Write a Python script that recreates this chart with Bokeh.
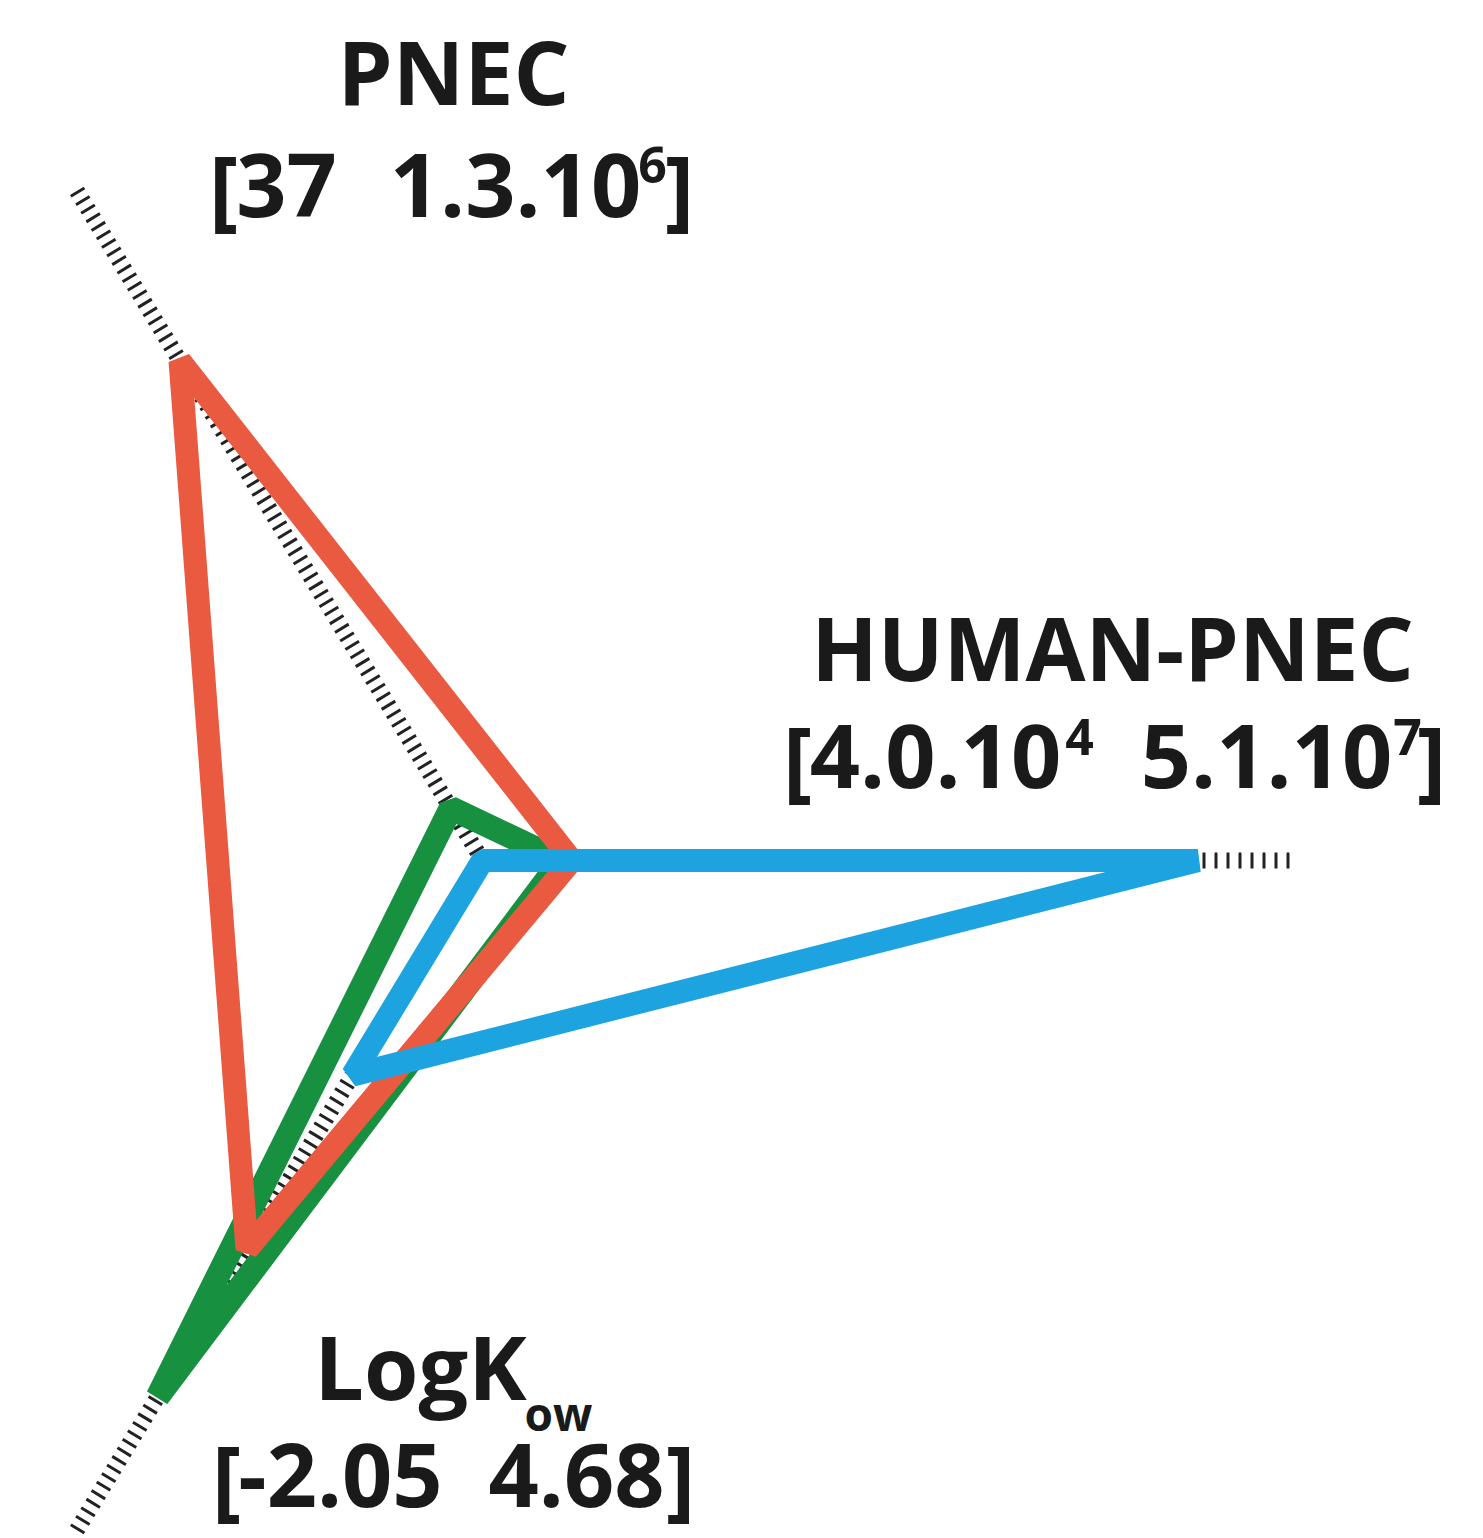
import numpy as np
from bokeh.plotting import figure
from bokeh.models import Range1d, ColumnDataSource
from bokeh.core.properties import value
from bokeh.embed import file_html
from bokeh.resources import INLINE

# ---- data -------------------------------------------------------------
axis_names = ["PNEC", "HUMAN-PNEC", "LogKow"]
axis_angles_deg = [120.0, 0.0, 240.0]
axis_ranges = {"PNEC": ("37", "1.3.10", "6"),
               "HUMAN-PNEC": ("4.0.10", "4", "5.1.10", "7"),
               "LogKow": ("-2.05", "4.68")}

# normalised position of each profile along the three axes (0 = centre, 1 = axis end)
green_values = [0.078, 0.097, 0.80]
red_values = [0.745, 0.11, 0.58]
blue_values = [0.0, 0.881, 0.32]

profile_values = [green_values, red_values, blue_values]
profile_colors = ["#17903F", "#EA5A41", "#1CA3E0"]
profile_widths = [24, 23, 23]

# ---- layout -----------------------------------------------------------
W, H = 1483, 1538
CX, CY = 482.0, 860.0
RX, RY = 812.0, 774.0
FONT = "Open Sans"
INK = "#1a1a1a"
BIG = 88
SMALL = 50


def to_xy(r, ang_deg):
    a = np.deg2rad(ang_deg)
    return CX + r * RX * np.cos(a), CY - r * RY * np.sin(a)


p = figure(width=W, height=H, x_range=Range1d(0, W), y_range=Range1d(H, 0),
           x_axis_type=None, y_axis_type=None, toolbar_location=None,
           output_backend="svg", min_border=0, outline_line_color=None,
           background_fill_color="white")
p.grid.visible = False

# hatched axes
dashes = {"PNEC": "3 7", "HUMAN-PNEC": "3 9", "LogKow": "3 7"}
for name, ang in zip(axis_names, axis_angles_deg):
    x0, y0 = to_xy(0.0, ang)
    x1, y1 = to_xy(1.0, ang)
    p.line([x0, x1], [y0, y1], line_color="#222222", line_width=16,
           line_dash=dashes[name], line_cap="butt")

# profiles
xs, ys = [], []
for vals in profile_values:
    pts = [to_xy(v, a) for v, a in zip(vals, axis_angles_deg)]
    xs.append([q[0] for q in pts])
    ys.append([q[1] for q in pts])
src = ColumnDataSource(dict(xs=xs, ys=ys, color=profile_colors, width=profile_widths))
p.patches("xs", "ys", source=src, fill_color=None, line_color="color",
          line_width="width", line_join="bevel")


def label(x, baseline, txt, size=BIG):
    # the svg text sits about 0.42 em below the requested alphabetic baseline
    p.text(x=[x], y=[baseline - 0.42 * size], text=[txt], text_font=value(FONT),
           text_font_size=f"{size}px", text_font_style="bold", text_align="center",
           text_baseline="alphabetic", text_color=INK)


# PNEC label
lo, hi, hi_exp = axis_ranges["PNEC"]
label(453, 107, "PNEC")
label(223, 222, "[")
label(286, 222, lo)
label(515, 222, hi)
label(652, 185, hi_exp, SMALL)
label(679, 222, "]")

# HUMAN-PNEC label
lo, lo_exp, hi, hi_exp = axis_ranges["HUMAN-PNEC"]
label(1112, 683, "HUMAN-PNEC", 87)
label(797, 793, "[")
label(935, 793, lo)
label(1079, 757, lo_exp, SMALL)
label(1266, 793, hi)
label(1407, 757, hi_exp, SMALL)
label(1431, 793, "]")

# LogKow label
lo, hi = axis_ranges["LogKow"]
label(420, 1402, "LogK")
label(558, 1432, "ow", 46)
label(226, 1512, "[")
label(340, 1512, lo)
label(576, 1512, hi)
label(680, 1512, "]")

open("out.html", "w").write(file_html(p, INLINE))
